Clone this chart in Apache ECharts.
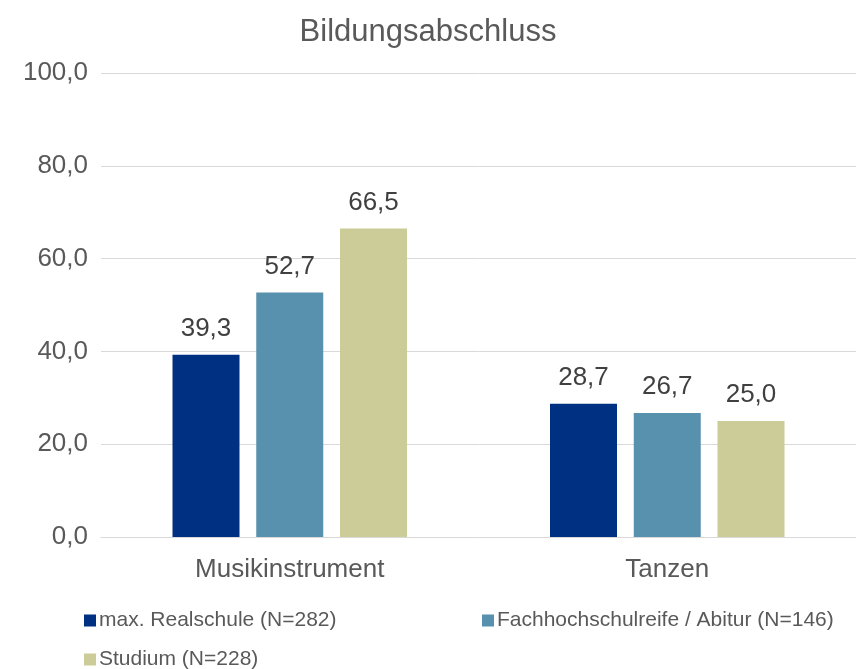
<!DOCTYPE html>
<html>
<head>
<meta charset="utf-8">
<script src="https://cdn.jsdelivr.net/npm/echarts@6/dist/echarts.min.js"></script>
<style>
  html, body { margin: 0; padding: 0; background: #fff; }
  #chart { width: 856px; height: 669px; }
</style>
</head>
<body>
<div id="chart"></div>
<script>
const categories = ['Musikinstrument', 'Tanzen'];
const seriesNames = ['max. Realschule (N=282)', 'Fachhochschulreife / Abitur (N=146)', 'Studium (N=228)'];
const realschule = [39.3, 28.7];
const abitur = [52.7, 26.7];
const studium = [66.5, 25.0];
const colors = ['#003082', '#5791AD', '#CCCC99'];

const font = 'Liberation Sans, Arial, sans-serif';
const fmt = v => v.toFixed(1).replace('.', ',');

const chart = echarts.init(document.getElementById('chart'));

function legendAt(name, left, top) {
    return {
        data: [name],
        left: left,
        top: top,
        itemWidth: 12,
        itemHeight: 12,
        itemGap: 0,
        icon: 'rect',
        padding: 0,
        textStyle: { color: '#595959', fontSize: 21, fontFamily: font, padding: [0, 0, 0, -2] }
    };
}

const values = [realschule, abitur, studium];

chart.setOption({
    animation: false,
    title: {
        text: 'Bildungsabschluss',
        left: 'center',
        top: 12,
        textStyle: { color: '#595959', fontSize: 31, fontWeight: 'normal', fontFamily: font }
    },
    legend: [
        legendAt(seriesNames[0], 84, 610),
        legendAt(seriesNames[1], 482, 610),
        legendAt(seriesNames[2], 84, 649)
    ],
    grid: { left: 101, right: 0, top: 73, bottom: 132 },
    xAxis: {
        type: 'category',
        data: categories,
        axisTick: { show: false },
        axisLine: { lineStyle: { color: '#d9d9d9' } },
        axisLabel: { color: '#595959', fontSize: 26, fontFamily: font, margin: 20 }
    },
    yAxis: {
        type: 'value',
        min: 0,
        max: 100,
        interval: 20,
        axisLabel: { color: '#595959', fontSize: 26, fontFamily: font, margin: 13, formatter: fmt },
        splitLine: { lineStyle: { color: '#d9d9d9', width: 1 } }
    },
    series: values.map((data, i) => ({
        name: seriesNames[i],
        type: 'bar',
        data: data,
        barWidth: 67,
        barGap: '25%',
        itemStyle: { color: colors[i] },
        label: {
            show: true,
            position: 'top',
            distance: 13,
            color: '#404040',
            fontSize: 26,
            fontFamily: font,
            formatter: p => fmt(p.value)
        }
    }))
});
</script>
</body>
</html>
